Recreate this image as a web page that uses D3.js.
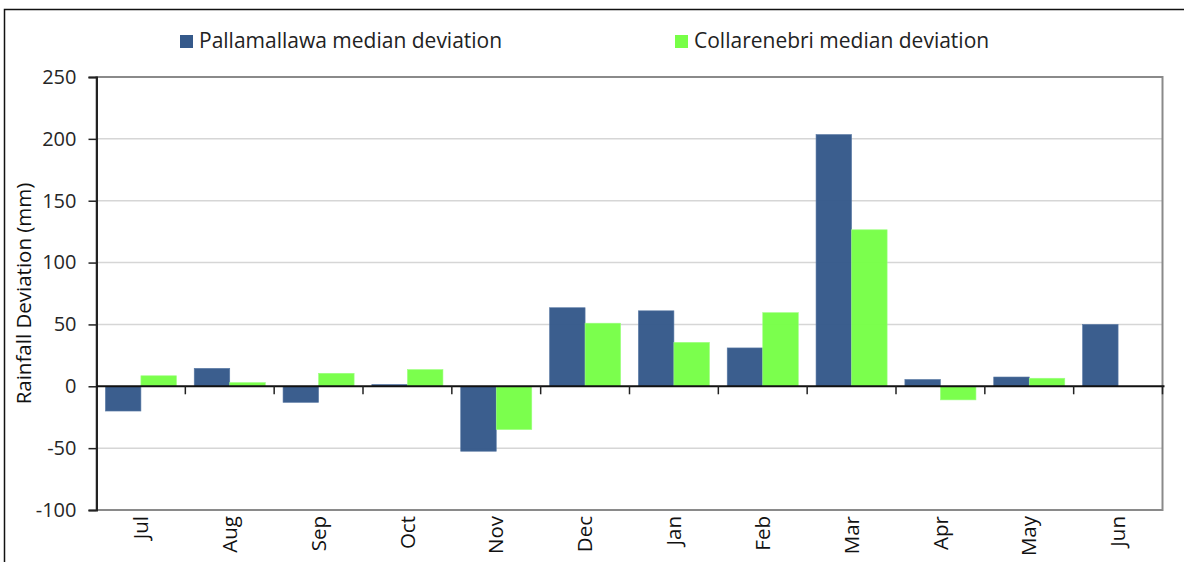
<!DOCTYPE html>
<html>
<head>
<meta charset="utf-8">
<script src="https://cdn.jsdelivr.net/npm/d3@7"></script>
<style>
  body { margin: 0; background: #fff; }
  text { font-family: "Open Sans", sans-serif; }
</style>
</head>
<body>
<svg width="1184" height="562"></svg>
<script>
const months = ["Jul", "Aug", "Sep", "Oct", "Nov", "Dec", "Jan", "Feb", "Mar", "Apr", "May", "Jun"];
const seriesNames = ["Pallamallawa median deviation", "Collarenebri median deviation"];
const pallamallawa = [-20, 14.5, -13, 1.5, -52.5, 63.5, 61, 31, 203.5, 5.5, 7.5, 50];
const collarenebri = [8.5, 3, 10.5, 13.5, -35, 51, 35.5, 59.5, 126.5, -11, 6.5, 0];
const yTicks = [-100, -50, 0, 50, 100, 150, 200, 250];
const colors = ["#35598a", "#77ff47"]; // blue / green

const svg = d3.select("svg");
const plotLeft = 96.5, plotRight = 1162.5, plotTop = 77, plotBottom = 510;

// outer chart frame (runs off the right and bottom edges)
svg.append("rect")
  .attr("x", 4.5).attr("y", 9.5)
  .attr("width", 1300).attr("height", 700)
  .attr("fill", "none").attr("stroke", "#111").attr("stroke-width", 1.5);

var x = d3.scaleBand().domain(months).range([plotLeft, plotRight]);
// two bars + half a bar of gap per category
var barW = x.bandwidth() / 2.5;
var y = d3.scaleLinear().domain([-100, 250]).range([plotBottom, plotTop]);

// gridlines
svg.append("g")
  .selectAll("line")
  .data(yTicks.filter(d => d != 0 && d != 250 && d != -100))
  .join("line")
  .attr("x1", plotLeft).attr("x2", plotRight)
  .attr("y1", d => y(d)).attr("y2", d => y(d))
  .attr("stroke", "#d6d6d6").attr("stroke-width", 1.5);

// plot area border
svg.append("rect")
  .attr("x", plotLeft).attr("y", plotTop)
  .attr("width", plotRight - plotLeft).attr("height", plotBottom - plotTop)
  .attr("fill", "none").attr("stroke", "#8a8a8a").attr("stroke-width", 2);

// bars
var series = [pallamallawa, collarenebri];
series.forEach(function (vals, si) {
  svg.append("g")
    .selectAll("rect")
    .data(vals)
    .join("rect")
    .attr("x", (d, i) => x(months[i]) + barW * 0.25 + si * barW)
    .attr("width", barW)
    .attr("y", d => y(Math.max(0, d)))
    .attr("height", d => Math.abs(y(d) - y(0)))
    .attr("fill", colors[si])
    .attr("fill-opacity", 0.97)
    .attr("stroke", si == 0 ? "#5a7aa5" : "#9dff80")
    .attr("stroke-width", 0.6);
});

// y axis (plain hyphen for negatives, like the original)
var yAxis = d3.axisLeft(y).tickValues(yTicks).tickSize(8).tickPadding(12)
  .tickFormat(d => String(d));
var gy = svg.append("g").attr("transform", "translate(" + plotLeft + ",0)").call(yAxis);
gy.select(".domain").attr("stroke", "#222").attr("stroke-width", 2);
gy.selectAll(".tick line").attr("stroke", "#222").attr("stroke-width", 1.5);
gy.selectAll(".tick text").attr("font-size", 20).attr("fill", "#262626")
  .attr("font-family", "'Open Sans', sans-serif");

// zero line with category ticks
svg.append("line")
  .attr("x1", plotLeft).attr("x2", plotRight + 2)
  .attr("y1", y(0)).attr("y2", y(0))
  .attr("stroke", "#111").attr("stroke-width", 2);
var bounds = months.map(m => x(m)).concat([plotRight]).slice(1);
svg.append("g")
  .selectAll("line")
  .data(bounds)
  .join("line")
  .attr("x1", d => d).attr("x2", d => d)
  .attr("y1", y(0)).attr("y2", y(0) + 8)
  .attr("stroke", "#222").attr("stroke-width", 1.5);

// x labels, rotated
svg.append("g")
  .selectAll("text")
  .data(months)
  .join("text")
  .attr("transform", d => "translate(" + (x(d) + x.bandwidth() / 2) + "," + (plotBottom + 6) + ") rotate(-90)")
  .attr("text-anchor", "end")
  .attr("dy", "0.35em")
  .attr("font-size", 20.5)
  .attr("fill", "#111")
  .text(d => d);

// y title
svg.append("text")
  .attr("transform", "translate(24," + ((plotTop + plotBottom) / 2) + ") rotate(-90)")
  .attr("text-anchor", "middle")
  .attr("dy", "0.35em")
  .attr("font-size", 20.5)
  .attr("fill", "#111")
  .text("Rainfall Deviation (mm)");

// legend
var legendX = [180, 675];
seriesNames.forEach(function (name, i) {
  svg.append("rect")
    .attr("x", legendX[i]).attr("y", 35)
    .attr("width", 13).attr("height", 13)
    .attr("fill", colors[i]);
  svg.append("text")
    .attr("x", legendX[i] + 19).attr("y", 48)
    .attr("font-size", 21)
    .attr("fill", "#222")
    .text(name);
});
</script>
</body>
</html>
